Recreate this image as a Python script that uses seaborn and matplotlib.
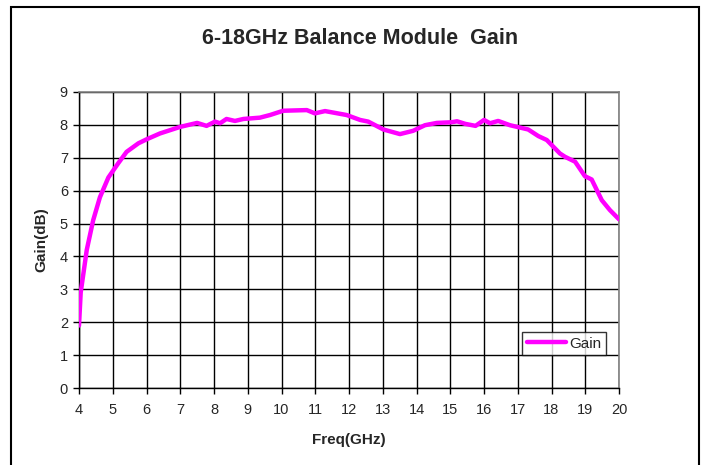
import matplotlib.pyplot as plt
import matplotlib.patches as mpatches
import pandas as pd
import seaborn as sns

sns.set_style("white")
plt.rcParams["font.family"] = ["Liberation Sans", "DejaVu Sans"]

freq = [4.0, 4.05, 4.23, 4.42, 4.62, 4.87, 5.16, 5.41, 5.76, 6.0, 6.4, 6.7, 7.0,
        7.5, 7.78, 8.03, 8.18, 8.37, 8.62, 8.87, 9.36, 9.66, 9.9, 10.05, 10.75,
        10.99, 11.29, 11.93, 12.33, 12.57, 13.02, 13.51, 13.9, 14.25, 14.6, 15.04,
        15.2, 15.45, 15.75, 16.0, 16.18, 16.42, 16.77, 17.31, 17.61, 17.86, 18.25,
        18.4, 18.7, 18.99, 19.19, 19.49, 19.73, 20.0]
gain = [1.9, 2.9, 4.2, 5.1, 5.8, 6.4, 6.83, 7.18, 7.44, 7.56, 7.74, 7.84, 7.94,
        8.06, 7.97, 8.1, 8.05, 8.18, 8.12, 8.18, 8.22, 8.3, 8.38, 8.43, 8.45,
        8.35, 8.42, 8.3, 8.15, 8.1, 7.86, 7.72, 7.82, 7.99, 8.06, 8.08,
        8.11, 8.03, 7.97, 8.15, 8.05, 8.12, 7.99, 7.86, 7.66, 7.54, 7.13,
        7.03, 6.88, 6.44, 6.34, 5.71, 5.41, 5.13]

x_ticks = list(range(4, 21))
y_ticks = list(range(0, 10))

df = pd.DataFrame({"Freq": freq, "Gain": gain})

fig = plt.figure(figsize=(7.13, 4.65), dpi=100)
ax = fig.add_axes([79 / 713, 1 - 388 / 465, 540 / 713, 296 / 465])

sns.lineplot(data=df, x="Freq", y="Gain", ax=ax, color="#ff00ff", linewidth=3.2,
             label="Gain", sort=False, zorder=3)

ax.set_xlim(4, 20)
ax.set_ylim(0, 9)
ax.set_xticks(x_ticks)
ax.set_yticks(y_ticks)
ax.grid(True, color="black", linewidth=1.0)
ax.set_axisbelow(True)

for side in ["top", "right"]:
    ax.spines[side].set_color("#808080")
    ax.spines[side].set_linewidth(1.2)
for side in ["left", "bottom"]:
    ax.spines[side].set_color("black")
    ax.spines[side].set_linewidth(1.0)

ax.tick_params(axis="both", direction="out", length=4, width=1, color="black",
               labelsize=10.5, bottom=True, left=True)
ax.tick_params(axis="x", pad=7)
ax.tick_params(axis="y", pad=4)

ax.set_xlabel("Freq(GHz)", fontsize=11, fontweight="bold", labelpad=11)
ax.set_ylabel("Gain(dB)", fontsize=11, fontweight="bold", labelpad=8)

fig.text(360 / 713, 1 - 39 / 465, "6-18GHz Balance Module  Gain", ha="center",
         va="center", fontsize=15.5, fontweight="bold")

leg = ax.legend(loc="lower right", bbox_to_anchor=(0.976, 0.111), fontsize=11,
                frameon=True, fancybox=False, shadow=False, handlelength=2.6,
                borderpad=0.3, handletextpad=0.2, borderaxespad=0)
leg.get_frame().set_edgecolor("black")
leg.get_frame().set_linewidth(1.0)

# outer chart border (bottom edge falls outside the picture)
border = mpatches.Rectangle((11 / 713, -0.05), 688 / 713, 1 - 7 / 465 + 0.05,
                            transform=fig.transFigure, fill=False,
                            edgecolor="black", linewidth=1.5)
fig.patches.append(border)

fig.savefig("out.png", dpi=100, facecolor="white")
